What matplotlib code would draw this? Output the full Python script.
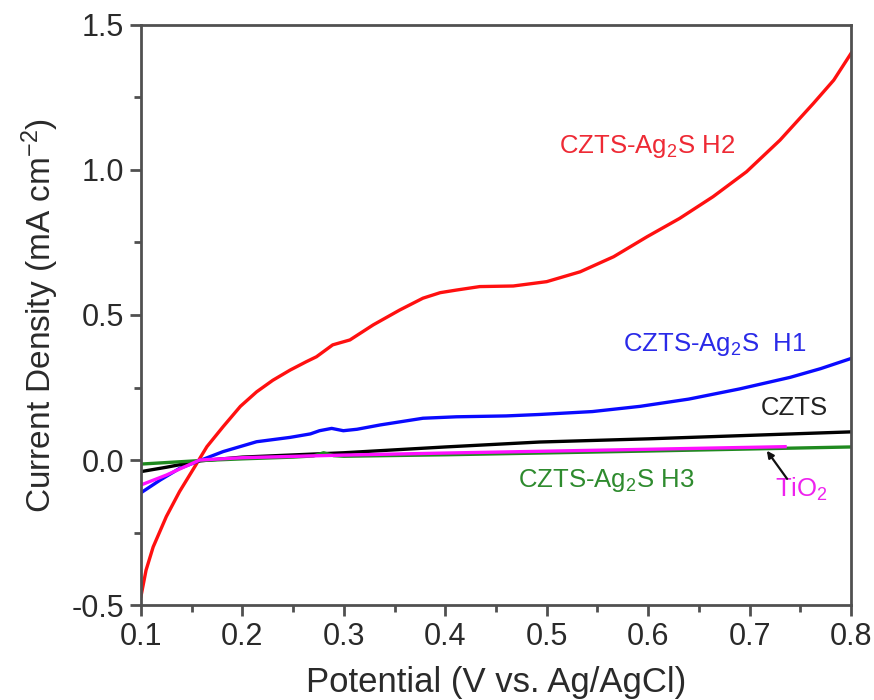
import matplotlib
matplotlib.use("Agg")
import matplotlib.pyplot as plt
from matplotlib.ticker import MultipleLocator

plt.rcParams['font.family'] = ['Liberation Sans', 'DejaVu Sans']
plt.rcParams['mathtext.fontset'] = 'custom'
plt.rcParams['mathtext.rm'] = 'Liberation Sans'
plt.rcParams['mathtext.it'] = 'Liberation Sans'

# ---- data ----
v_h2 = [0.100, 0.105, 0.112, 0.125, 0.138, 0.152, 0.165, 0.181, 0.198, 0.214, 0.230,
        0.247, 0.263, 0.273, 0.289, 0.306, 0.329, 0.355, 0.378, 0.395, 0.411, 0.434,
        0.467, 0.500, 0.533, 0.566, 0.599, 0.631, 0.664, 0.697, 0.730, 0.763, 0.783, 0.800]
j_h2 = [-0.47, -0.38, -0.30, -0.195, -0.109, -0.029, 0.046, 0.115, 0.185, 0.235, 0.275,
        0.31, 0.339, 0.356, 0.397, 0.414, 0.466, 0.517, 0.558, 0.577, 0.586, 0.598,
        0.600, 0.615, 0.649, 0.701, 0.770, 0.833, 0.908, 0.994, 1.103, 1.230, 1.310, 1.402]

v_h1 = [0.100, 0.119, 0.138, 0.155, 0.181, 0.214, 0.247, 0.267, 0.276, 0.288, 0.2995,
        0.313, 0.336, 0.378, 0.411, 0.460, 0.493, 0.545, 0.592, 0.640, 0.690, 0.740, 0.770, 0.800]
j_h1 = [-0.113, -0.069, -0.029, -0.006, 0.029, 0.063, 0.078, 0.09, 0.101, 0.109, 0.101,
        0.106, 0.121, 0.144, 0.149, 0.152, 0.157, 0.167, 0.185, 0.210, 0.245, 0.285, 0.315, 0.35]

v_czts = [0.10, 0.125, 0.158, 0.2, 0.3, 0.4, 0.493, 0.6, 0.7, 0.8]
j_czts = [-0.04, -0.025, -0.003, 0.01, 0.025, 0.045, 0.062, 0.073, 0.085, 0.097]

v_tio2 = [0.10, 0.125, 0.142, 0.158, 0.2, 0.3, 0.4, 0.493, 0.6, 0.735]
j_tio2 = [-0.086, -0.052, -0.025, 0.0, 0.008, 0.017, 0.024, 0.03, 0.037, 0.046]

v_h3 = [0.10, 0.158, 0.2, 0.25, 0.27, 0.28, 0.29, 0.3, 0.4, 0.493, 0.6, 0.7, 0.8]
j_h3 = [-0.014, -0.002, 0.004, 0.01, 0.014, 0.025, 0.015, 0.013, 0.018, 0.024, 0.031, 0.038, 0.045]

x_ticks = [0.1, 0.2, 0.3, 0.4, 0.5, 0.6, 0.7, 0.8]
y_ticks = [-0.5, 0.0, 0.5, 1.0, 1.5]

# ---- figure ----
fig = plt.figure(figsize=(8.74, 7.0), dpi=100)
ax = fig.add_axes([0.1613, 0.1357, 0.8124, 0.8286])

lw = 2.4
ax.plot(v_h2, j_h2, color='#ff1010', lw=lw, solid_joinstyle='round')
ax.plot(v_h1, j_h1, color='#0a0aff', lw=lw, solid_joinstyle='round')
ax.plot(v_czts, j_czts, color='#000000', lw=lw)
ax.plot(v_h3, j_h3, color='#1f8a1f', lw=lw)
ax.plot(v_tio2, j_tio2, color='#ff10ff', lw=lw)

ax.set_xlim(0.1, 0.8)
ax.set_ylim(-0.5, 1.5)
ax.set_xticks(x_ticks)
ax.set_yticks(y_ticks)
ax.set_xticklabels([f"{t:.1f}" for t in x_ticks])
ax.set_yticklabels([f"{t:.1f}" for t in y_ticks])
ax.xaxis.set_minor_locator(MultipleLocator(0.05))
ax.yaxis.set_minor_locator(MultipleLocator(0.25))

spine_c = '#505050'
for s in ax.spines.values():
    s.set_color(spine_c)
    s.set_linewidth(2.0)
ax.tick_params(which='both', direction='out', color=spine_c, width=2.0,
               top=False, right=False)
ax.tick_params(which='major', length=8, labelsize=22, labelcolor='#2a2a2a', pad=4)
ax.tick_params(which='minor', length=5)

ax.set_xlabel('Potential (V vs. Ag/AgCl)', fontsize=25, color='#2a2a2a', labelpad=10)
ax.set_ylabel('Current Density (mA cm$^{-2}$)', fontsize=24, color='#2a2a2a', labelpad=8)

fs = 18.5
ax.text(0.512, 1.08, 'CZTS-Ag$_2$S H2', color='#ee2a35', fontsize=fs, va='center', ha='left')
ax.text(0.575, 0.40, 'CZTS-Ag$_2$S  H1', color='#2a2ae8', fontsize=fs, va='center', ha='left')
ax.text(0.711, 0.18, 'CZTS', color='#222222', fontsize=fs, va='center', ha='left')
ax.text(0.472, -0.07, 'CZTS-Ag$_2$S H3', color='#2e8b2e', fontsize=fs, va='center', ha='left')
ax.text(0.725, -0.10, 'TiO$_2$', color='#ee22ee', fontsize=fs, va='center', ha='left')
ax.annotate('', xy=(0.717, 0.032), xytext=(0.737, -0.065),
            arrowprops=dict(arrowstyle='-|>', color='#111111', lw=1.6,
                            mutation_scale=10, shrinkA=0, shrinkB=0))

fig.savefig('out.png', dpi=100)
